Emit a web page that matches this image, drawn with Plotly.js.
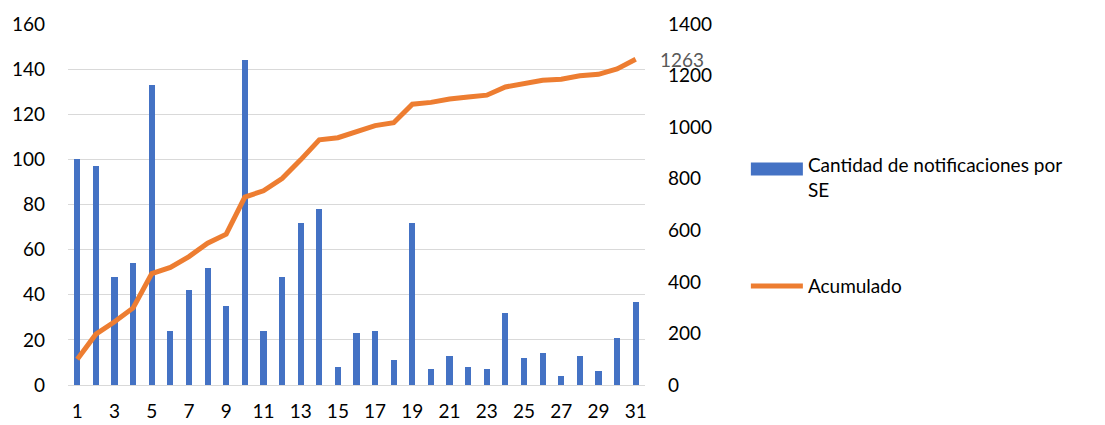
<!DOCTYPE html>
<html>
<head>
<meta charset="utf-8">
<script src="https://cdn.plot.ly/plotly-3.0.1.min.js"></script>
<style>html,body{margin:0;padding:0;background:#fff;}#chart{width:1105px;height:425px;}</style>
</head>
<body>
<div id="chart"></div>
<script>
const semanas = [1,2,3,4,5,6,7,8,9,10,11,12,13,14,15,16,17,18,19,20,21,22,23,24,25,26,27,28,29,30,31];
const notificaciones = [100,97,48,54,133,24,42,52,35,144,24,48,72,78,8,23,24,11,72,7,13,8,7,32,12,14,4,13,6,21,37];
const acumulado = [100,197,245,299,432,456,498,550,585,729,753,801,873,951,959,982,1006,1017,1089,1096,1109,1117,1124,1156,1168,1182,1186,1199,1205,1226,1263];
const xTicks = [1,3,5,7,9,11,13,15,17,19,21,23,25,27,29,31];
const nombreBarras = "Cantidad de notificaciones por<br>SE";
const nombreLinea = "Acumulado";

const FONT = "Lato, 'Open Sans', sans-serif";
const last = semanas.length - 1;

const traces = [
  {
    type: "bar", x: semanas, y: notificaciones, name: nombreBarras,
    marker: {color: "#4472C4"}, width: 0.33, legendgroup: "a", hoverinfo: "x+y"
  },
  {
    type: "scatter", mode: "lines", x: semanas, y: acumulado, name: nombreLinea,
    yaxis: "y2", line: {color: "#ED7D31", width: 5}, legendgroup: "b"
  }
];

const layout = {
  width: 1105, height: 425,
  margin: {l: 68, r: 460, t: 24, b: 40},
  paper_bgcolor: "#fff", plot_bgcolor: "#fff",
  font: {family: FONT, size: 19, color: "#000"},
  showlegend: true,
  bargap: 0,
  xaxis: {
    range: [0.5, 31.5], tickmode: "array", tickvals: xTicks, ticktext: xTicks.map(String),
    showgrid: false, zeroline: false, showline: false, ticks: "",
    tickfont: {family: FONT, size: 19, color: "#000"}, ticklabelstandoff: 13
  },
  yaxis: {
    range: [0, 160], dtick: 20, tick0: 0, showgrid: true, gridcolor: "#D9D9D9", gridwidth: 1,
    zeroline: true, zerolinecolor: "#D9D9D9", zerolinewidth: 1, showline: false, ticks: "",
    tickfont: {family: FONT, size: 19, color: "#000"}, ticklabelstandoff: 22
  },
  yaxis2: {
    range: [0, 1400], dtick: 200, tick0: 0, overlaying: "y", side: "right",
    showgrid: false, zeroline: false, showline: false, ticks: "",
    tickfont: {family: FONT, size: 19, color: "#000"}, ticklabelstandoff: 22
  },
  legend: {
    xref: "container", yref: "container", x: 0.675, y: 0.657, xanchor: "left", yanchor: "top",
    font: {family: FONT, size: 19, color: "#000"}, traceorder: "grouped", tracegroupgap: 69,
    itemwidth: 52, bgcolor: "rgba(0,0,0,0)"
  },
  annotations: [{
    x: semanas[last], y: acumulado[last], xref: "x", yref: "y2",
    text: String(acumulado[last]), showarrow: false, xanchor: "left", yanchor: "middle",
    xshift: 22, yshift: 0, font: {family: FONT, size: 19, color: "#595959"}
  }]
};

Plotly.newPlot("chart", traces, layout, {displayModeBar: false, staticPlot: true}).then(function (gd) {
  // widen the bar legend swatch to a flat rectangle aligned with the first text line
  const barSwatch = gd.querySelector(".legend .traces .legendpoints path");
  if (barSwatch) barSwatch.setAttribute("d", "M-26,-1.5H26V-14.5H-26Z");
});
</script>
</body>
</html>
